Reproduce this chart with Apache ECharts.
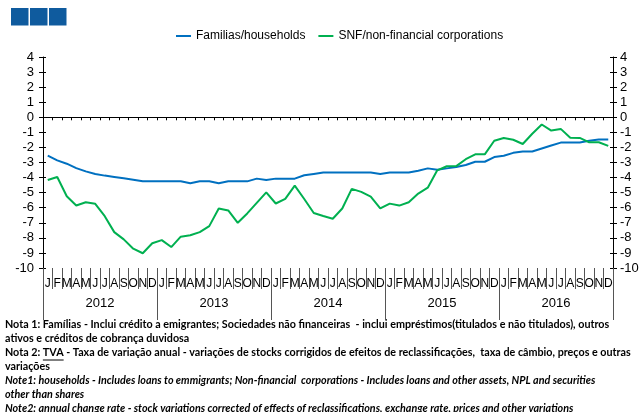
<!DOCTYPE html>
<html>
<head>
<meta charset="utf-8">
<script src="https://cdn.jsdelivr.net/npm/echarts@6/dist/echarts.min.js"></script>
<style>
  html, body { margin: 0; padding: 0; background: #fff; }
  #chart { width: 642px; height: 412px; }
</style>
</head>
<body>
<div id="chart"></div>
<script>
var years = ['2012', '2013', '2014', '2015', '2016'];
var monthLetters = ['J', 'F', 'M', 'A', 'M', 'J', 'J', 'A', 'S', 'O', 'N', 'D'];
var yTicks = [-10, 4, 1]; // min, max, step

// Familias/households (TVA, %)
var households = [
    -2.55, -2.86, -3.08, -3.37, -3.59, -3.76, -3.87, -3.96, -4.05, -4.14, -4.25, -4.25,
    -4.25, -4.25, -4.25, -4.38, -4.25, -4.25, -4.38, -4.25, -4.25, -4.25, -4.07, -4.16,
    -4.07, -4.07, -4.07, -3.85, -3.76, -3.67, -3.67, -3.67, -3.67, -3.67, -3.67, -3.76,
    -3.67, -3.67, -3.67, -3.55, -3.39, -3.48, -3.39, -3.30, -3.17, -2.95, -2.95, -2.64,
    -2.55, -2.36, -2.27, -2.27, -2.07, -1.87, -1.68, -1.68, -1.68, -1.56, -1.48, -1.48
];
// SNF/non-financial corporations (TVA, %)
var nfc = [
    -4.16, -3.96, -5.24, -5.85, -5.64, -5.74, -6.56, -7.62, -8.10, -8.72, -9.02, -8.36,
    -8.15, -8.61, -7.92, -7.83, -7.62, -7.22, -6.05, -6.18, -7.00, -6.38, -5.68, -4.98,
    -5.72, -5.41, -4.53, -5.42, -6.35, -6.55, -6.73, -6.05, -4.75, -4.95, -5.26, -6.05,
    -5.73, -5.86, -5.64, -5.06, -4.67, -3.52, -3.25, -3.24, -2.78, -2.46, -2.46, -1.56,
    -1.37, -1.49, -1.77, -1.09, -0.48, -0.88, -0.77, -1.36, -1.37, -1.66, -1.66, -1.90
];

var notes = [
    {text: 'Nota 1: Famílias - Inclui crédito a emigrantes; Sociedades não financeiras  - inclui empréstimos(titulados e não titulados), outros', italic: false},
    {text: 'ativos e créditos de cobrança duvidosa', italic: false},
    {text: 'Nota 2: TVA - Taxa de variação anual - variações de stocks corrigidos de efeitos de reclassificações,  taxa de câmbio, preços e outras', italic: false},
    {text: 'variações', italic: false},
    {text: 'Note1: households - Includes loans to emmigrants; Non-financial  corporations - Includes loans and other assets, NPL and securities', italic: true},
    {text: 'other than shares', italic: true},
    {text: 'Note2: annual change rate - stock variations corrected of effects of reclassifications, exchange rate, prices and other variations', italic: true}
];

var months = [];
var monthAxis = [];
years.forEach(function (y) {
    monthLetters.forEach(function (m, k) {
        months.push(y + '-' + (k + 1));
        monthAxis.push(m);
    });
});

var font = 'Liberation Sans, Arial, sans-serif';
var noteFont = 'Lato, "Open Sans", sans-serif';
var noteSize = 10.75;

// underline position for "TVA"
var cv = document.createElement('canvas').getContext('2d');
cv.font = 'bold ' + noteSize + 'px ' + noteFont;
var tvaX = 5 + cv.measureText('Nota 2: ').width;
var tvaW = cv.measureText('TVA').width;

var graphics = [
    {type: 'rect', left: 11, top: 8, shape: {width: 17.5, height: 17.5}, style: {fill: '#0F5B9E'}},
    {type: 'rect', left: 30, top: 8, shape: {width: 17.5, height: 17.5}, style: {fill: '#0F5B9E'}},
    {type: 'rect', left: 49, top: 8, shape: {width: 17.5, height: 17.5}, style: {fill: '#0F5B9E'}},
    {type: 'line', shape: {x1: tvaX, y1: 360, x2: tvaX + tvaW, y2: 360}, style: {stroke: '#000', lineWidth: 1}}
];
notes.forEach(function (n, i) {
    graphics.push({
        type: 'text',
        left: 5,
        top: 319 + i * 14,
        style: {
            text: n.text,
            fill: '#000',
            font: (n.italic ? 'italic ' : '') + 'bold ' + noteSize + 'px ' + noteFont
        }
    });
});

var myChart = echarts.init(document.getElementById('chart'), null, {renderer: 'canvas'});

var yBase = {
    type: 'value',
    min: yTicks[0],
    max: yTicks[1],
    interval: yTicks[2],
    splitLine: {show: false}
};

var option = {
    animation: false,
    backgroundColor: '#fff',
    legend: {
        left: 171,
        top: 25,
        icon: 'rect',
        itemWidth: 15,
        itemHeight: 2,
        itemGap: 13,
        textStyle: {fontFamily: font, fontSize: 12, color: '#000'},
        data: ['Familias/households', 'SNF/non-financial corporations']
    },
    grid: {left: 43, right: 29, top: 57, bottom: 144},
    xAxis: [
        {
            type: 'category',
            data: months,
            position: 'bottom',
            boundaryGap: true,
            axisLine: {show: true, onZero: true, lineStyle: {color: '#000', width: 1}},
            axisTick: {show: true, interval: 0, length: 3, lineStyle: {color: '#000'}},
            axisLabel: {show: false}
        },
        {
            type: 'category',
            data: monthAxis,
            position: 'bottom',
            boundaryGap: true,
            axisLine: {show: false, onZero: false},
            axisTick: {show: true, interval: 0, length: 21, lineStyle: {color: '#555'}},
            axisLabel: {show: true, interval: 0, margin: 10, fontFamily: font, fontSize: 12, color: '#000'}
        },
        {
            type: 'category',
            data: years,
            position: 'bottom',
            boundaryGap: true,
            axisLine: {show: false, onZero: false},
            axisTick: {show: true, interval: 0, length: 52, lineStyle: {color: '#555'}},
            axisLabel: {show: true, interval: 0, margin: 29, fontFamily: font, fontSize: 13, color: '#000'}
        }
    ],
    yAxis: [
        Object.assign({}, yBase, {
            position: 'left',
            axisLine: {show: true, lineStyle: {color: '#000'}},
            axisTick: {show: true, length: 4, lineStyle: {color: '#000'}},
            axisLabel: {margin: 9, fontFamily: font, fontSize: 13, color: '#000'}
        }),
        Object.assign({}, yBase, {
            position: 'left',
            axisLine: {show: false},
            axisTick: {show: true, inside: true, length: 3, lineStyle: {color: '#000'}},
            axisLabel: {show: false}
        }),
        Object.assign({}, yBase, {
            position: 'right',
            axisLine: {show: true, lineStyle: {color: '#000'}},
            axisTick: {show: true, length: 4, lineStyle: {color: '#000'}},
            axisLabel: {margin: 7, fontFamily: font, fontSize: 13, color: '#000'}
        }),
        Object.assign({}, yBase, {
            position: 'right',
            axisLine: {show: false},
            axisTick: {show: true, inside: true, length: 3, lineStyle: {color: '#000'}},
            axisLabel: {show: false}
        })
    ],
    series: [
        {
            name: 'Familias/households',
            type: 'line',
            xAxisIndex: 0,
            yAxisIndex: 0,
            data: households,
            symbol: 'none',
            itemStyle: {color: '#0070C0'},
            lineStyle: {color: '#0070C0', width: 2}
        },
        {
            name: 'SNF/non-financial corporations',
            type: 'line',
            xAxisIndex: 0,
            yAxisIndex: 0,
            data: nfc,
            symbol: 'none',
            itemStyle: {color: '#00B050'},
            lineStyle: {color: '#00B050', width: 2}
        }
    ],
    graphic: graphics
};

myChart.setOption(option);
</script>
</body>
</html>
